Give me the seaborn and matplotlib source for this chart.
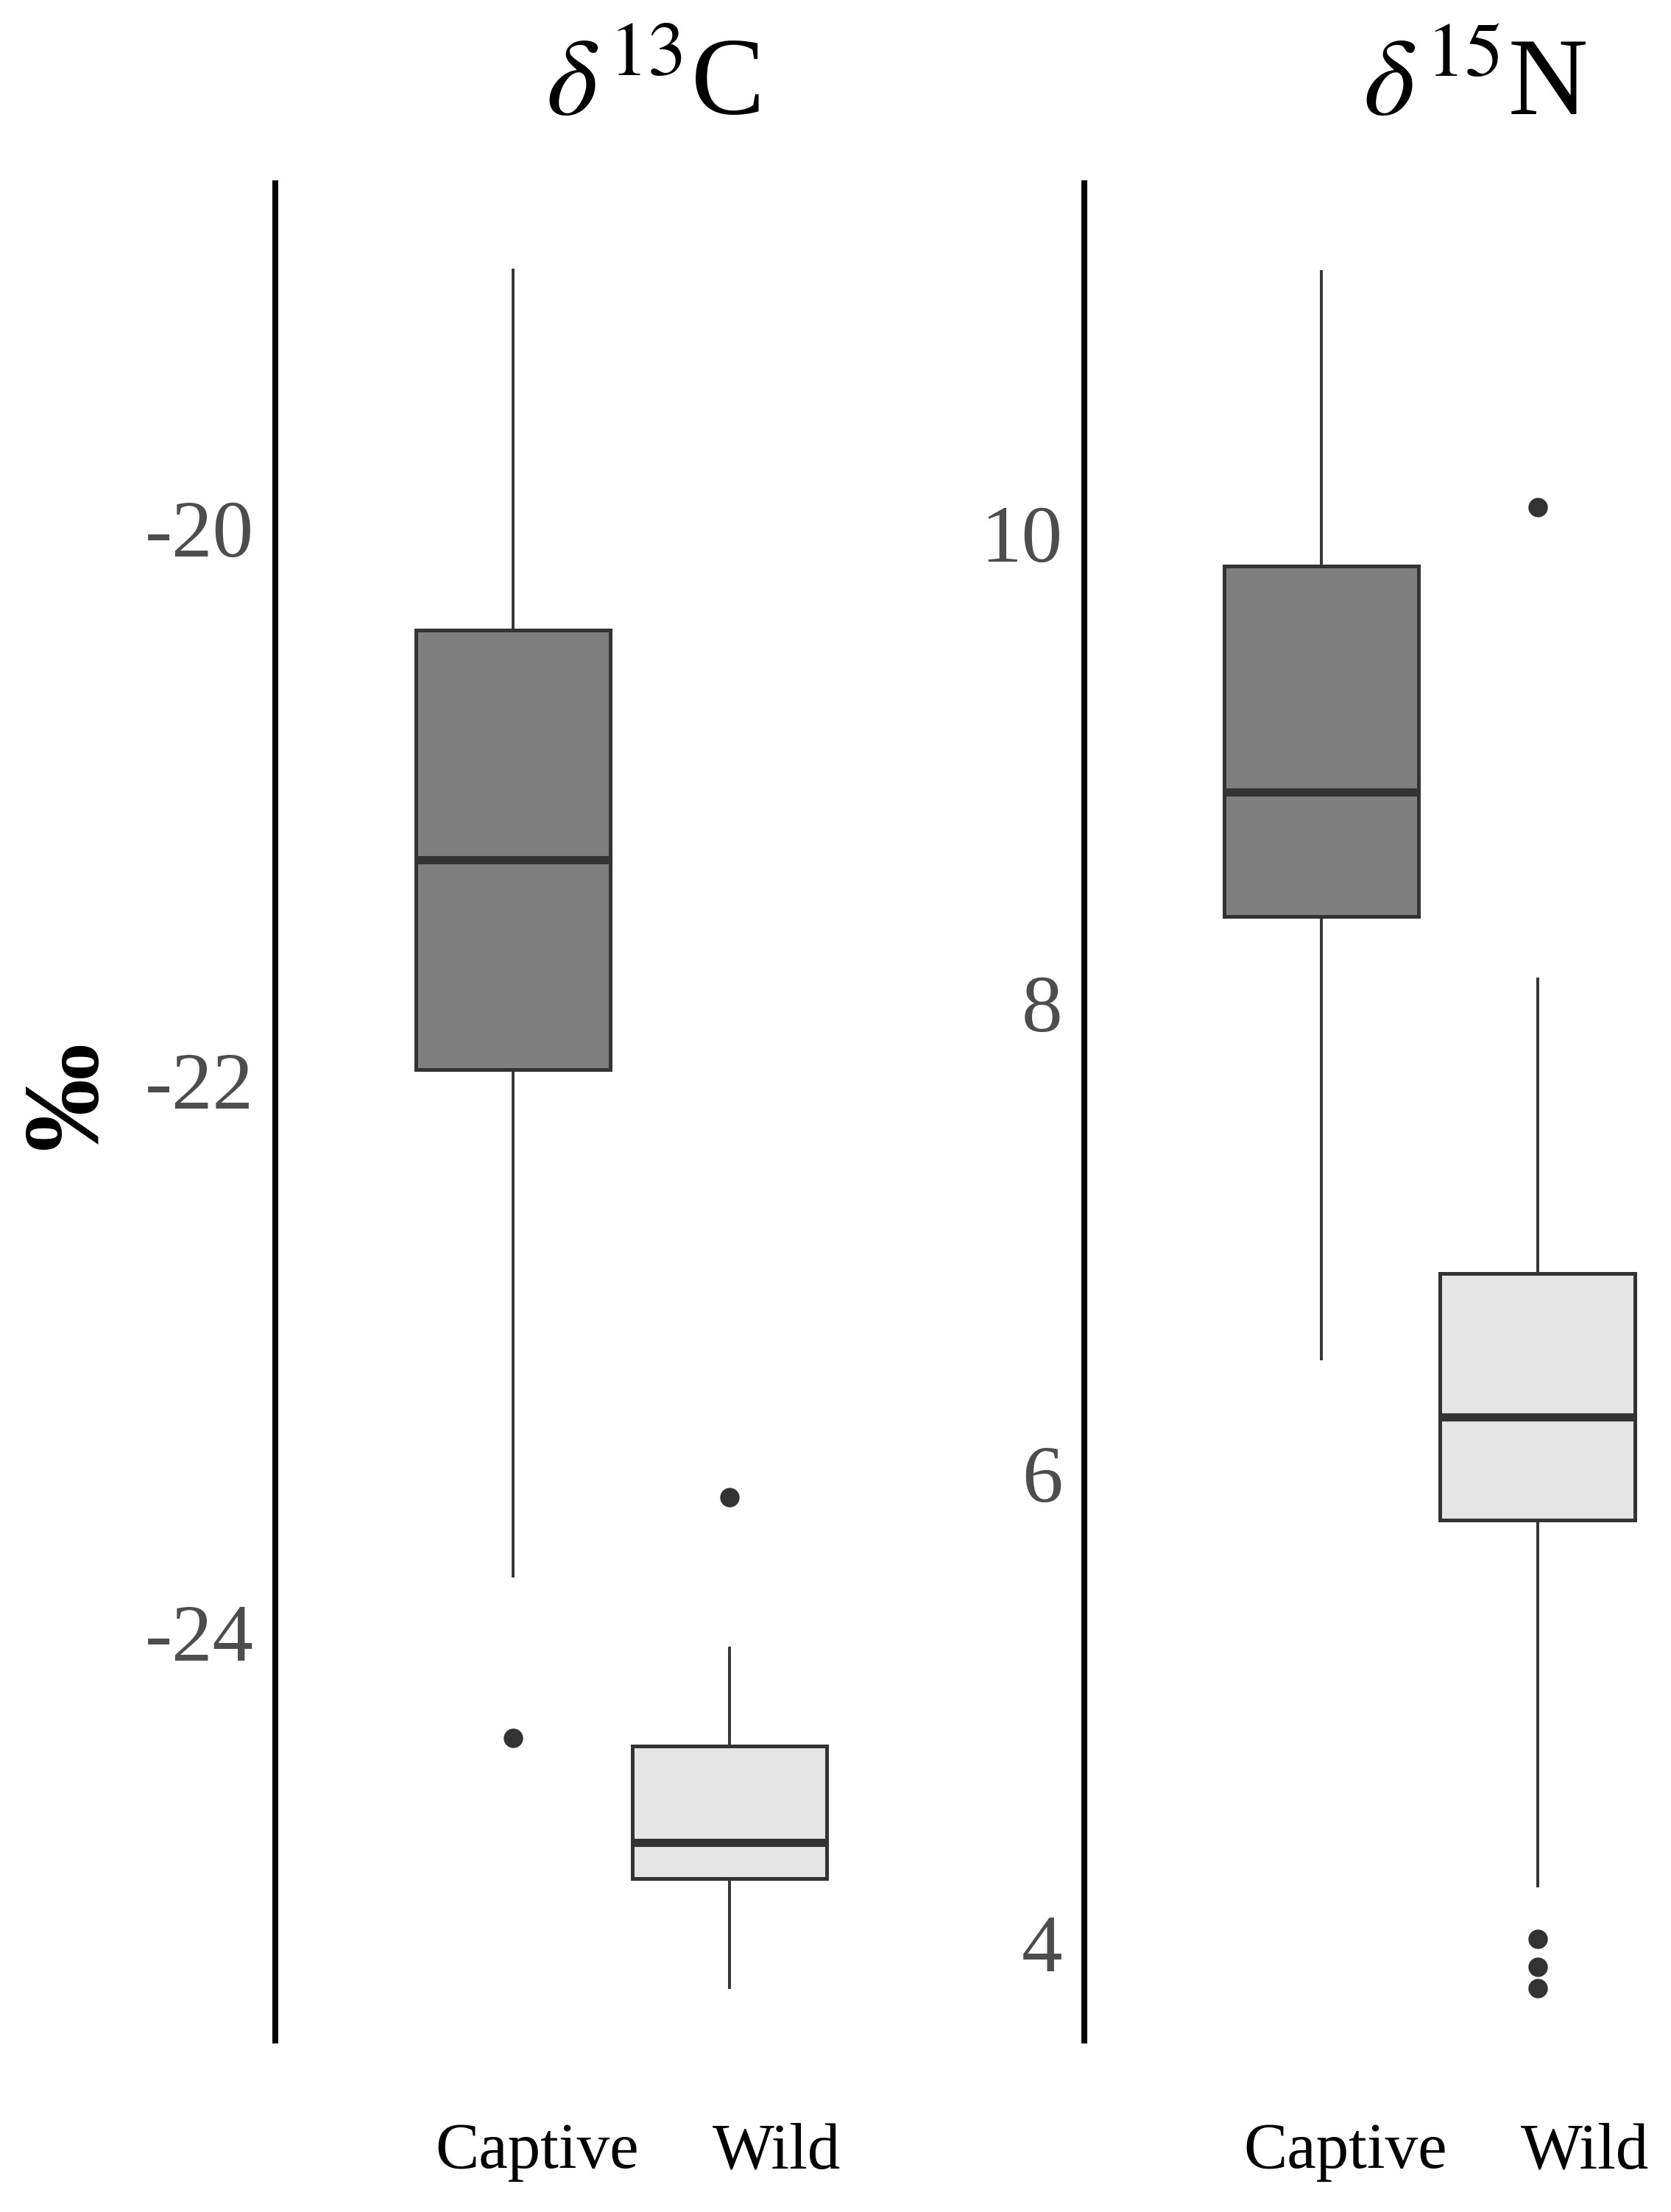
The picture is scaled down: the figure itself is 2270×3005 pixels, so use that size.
import pandas as pd
import matplotlib
matplotlib.use('Agg')
import matplotlib.pyplot as plt
import matplotlib.transforms as mtransforms
import seaborn as sns

sns.set_style('white')
plt.rcParams['font.family'] = ['Liberation Serif', 'DejaVu Serif']
plt.rcParams['mathtext.fontset'] = 'stix'
plt.rcParams['axes.unicode_minus'] = False

# values (whisker ends, quartiles, median, outliers)
groups = ['Captive', 'Wild']
carbon_captive = [-24.38, -23.80, -21.96, -21.60, -21.20, -20.80, -20.37, -19.80, -19.06]
carbon_wild = [-25.29, -25.10, -24.89, -24.83, -24.76, -24.60, -24.41, -24.05, -23.51]
nitrogen_captive = [6.48, 7.60, 8.37, 8.62, 8.90, 9.35, 9.86, 10.50, 11.12]
nitrogen_wild = [3.81, 3.90, 4.02, 4.24, 5.80, 5.95, 6.05, 6.15, 6.24,
                 6.40, 6.55, 6.70, 6.85, 7.20, 7.60, 8.11, 10.11]
carbon_ticks = [-24, -22, -20]
nitrogen_ticks = [4, 6, 8, 10]
box_colors = {'Captive': '#7f7f7f', 'Wild': '#e5e5e5'}
line_color = '#333333'


def make_frame(captive, wild):
    return pd.DataFrame({
        'group': ['Captive'] * len(captive) + ['Wild'] * len(wild),
        'value': list(captive) + list(wild),
    })


def draw_panel(ax, df, title, ticks, ylim, xleft, title_x):
    sns.boxplot(data=df, x='group', y='value', hue='group',
                order=groups, hue_order=groups, palette=box_colors,
                saturation=1, width=0.9, linecolor=line_color, linewidth=1.8,
                fliersize=8.5, legend=False, showcaps=False,
                medianprops=dict(linewidth=4, color=line_color),
                whiskerprops=dict(linewidth=1.4, color=line_color),
                flierprops=dict(marker='o', markerfacecolor=line_color,
                                markeredgecolor=line_color),
                ax=ax)
    ax.set_xlim(xleft, 1.6)
    ax.set_ylim(ylim)
    ax.set_yticks(ticks)
    ax.set_yticklabels([str(t) for t in ticks])
    ax.set_xlabel('')
    ax.set_ylabel('')
    sns.despine(ax=ax, bottom=True)
    ax.spines['left'].set_linewidth(2.9)
    ax.spines['left'].set_color('black')
    ax.tick_params(axis='y', length=3.6, width=1.5, color=line_color,
                   labelsize=40, labelcolor='#4d4d4d', pad=7)
    ax.tick_params(axis='x', length=0, labelsize=32, labelcolor='black', pad=40)
    ax.set_title(title, fontsize=54, color='black', x=title_x, y=1 + 93 / 2523, pad=0)
    # labels in the original sit a little right of the boxes
    for lab, dx in zip(ax.get_xticklabels(), [33, 64]):
        lab.set_transform(lab.get_transform() +
                          mtransforms.ScaledTranslation(dx / 200, 0, ax.figure.dpi_scale_trans))


fig = plt.figure(figsize=(11.35, 15.025), dpi=200)
ax_c = fig.add_axes([374 / 2270, 0.0775, 793 / 2270, 0.8396])
ax_n = fig.add_axes([1473 / 2270, 0.0775, 792 / 2270, 0.8396])

draw_panel(ax_c, make_frame(carbon_captive, carbon_wild), r'$\delta^{13}$C',
           carbon_ticks, (-25.477, -18.751), -1.100, 0.647)
draw_panel(ax_n, make_frame(nitrogen_captive, nitrogen_wild), r'$\delta^{15}$N',
           nitrogen_ticks, (3.587, 11.488), -1.095, 0.670)

ax_c.set_ylabel('‰', fontsize=53, fontweight='bold', color='black', va='center', ha='center')
ax_c.yaxis.set_label_coords((95 - 374) / 793, (2772 - 1487) / 2523)

fig.savefig('out.png', dpi=200)
